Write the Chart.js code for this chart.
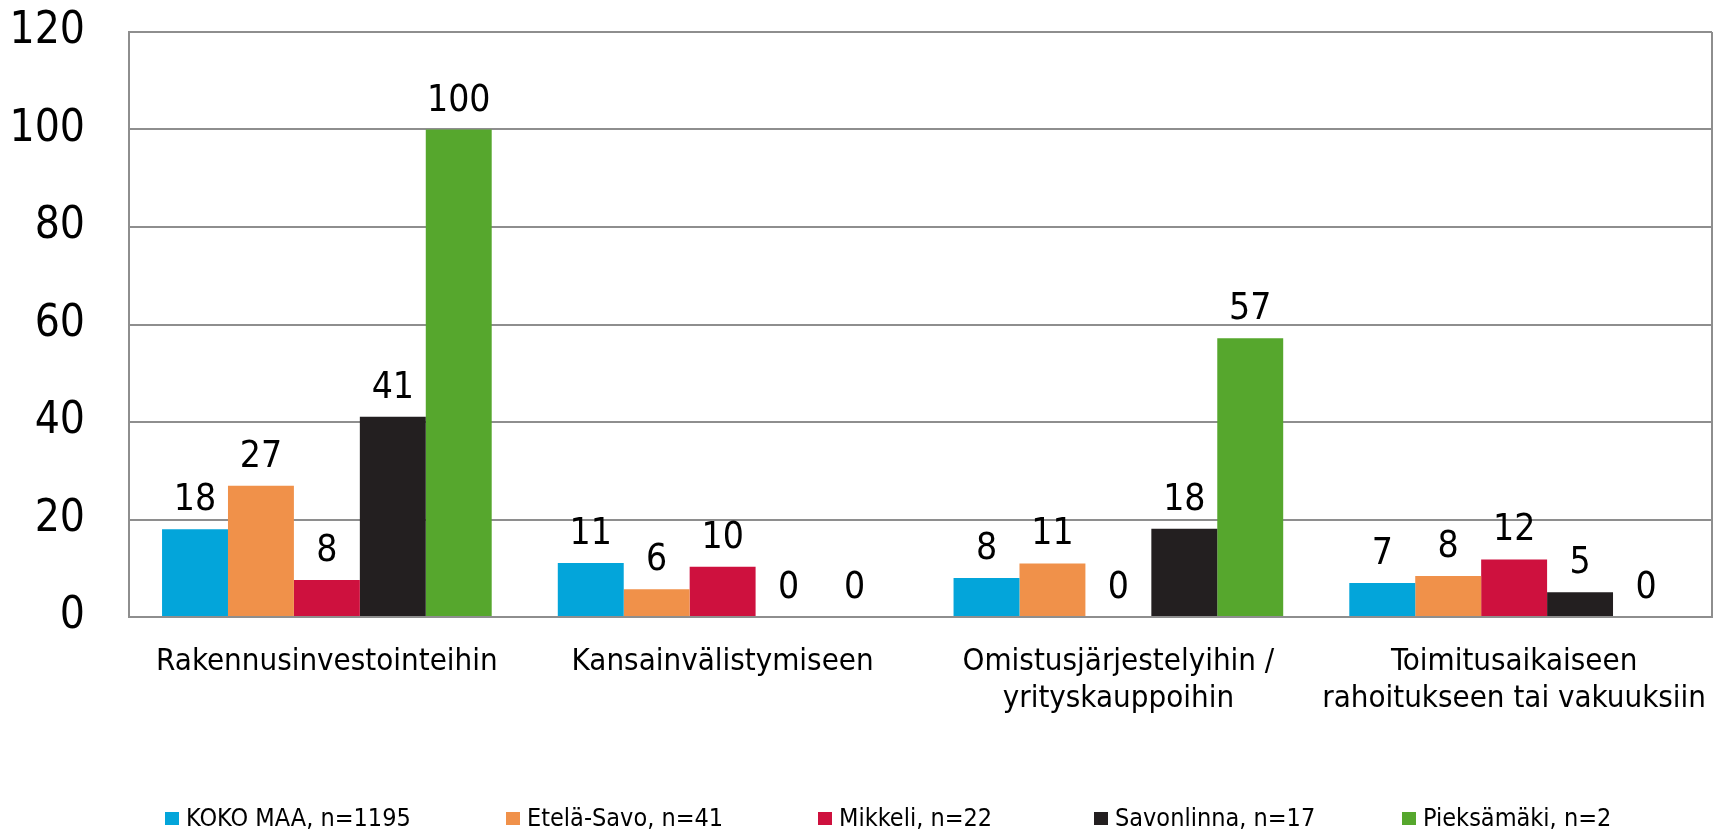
<!DOCTYPE html>
<html><head><meta charset="utf-8">
<script src="https://cdn.jsdelivr.net/npm/chart.js@4.4.1/dist/chart.umd.min.js"></script>
<style>
html,body{margin:0;padding:0;background:#fff;}
#wrap{position:relative;width:1713px;height:832px;overflow:hidden;}
#legend{position:absolute;left:0;top:0;width:1713px;height:832px;pointer-events:none;font-family:"DejaVu Sans Condensed","DejaVu Sans",sans-serif;font-stretch:condensed;font-size:25px;color:#000;}
.li{position:absolute;top:805px;height:26px;display:flex;align-items:center;white-space:pre;line-height:26px;}
.sw{display:inline-block;width:14px;height:13px;margin-right:7px;}
</style></head><body>
<div id="wrap"><canvas id="c" width="1713" height="832"></canvas><div id="legend"></div></div>
<script>
// ---- data ----
const categories = [
  ["Rakennusinvestointeihin"],
  ["Kansainvälistymiseen"],
  ["Omistusjärjestelyihin /", "yrityskauppoihin"],
  ["Toimitusaikaiseen", "rahoitukseen tai vakuuksiin"]
];
const seriesNames = ["KOKO MAA, n=1195", "Etelä-Savo, n=41", "Mikkeli, n=22", "Savonlinna, n=17", "Pieksämäki, n=2"];
const kokoMaa    = [18.0, 11.1, 8.0, 7.0];
const etelaSavo  = [26.9, 5.7, 11.0, 8.4];
const mikkeli    = [7.6, 10.3, 0, 11.8];
const savonlinna = [41.1, 0, 18.1, 5.1];
const pieksamaki = [100, 0, 57.2, 0];
const yMin = 0, yMax = 120, yStep = 20;

// ---- styles ----
const colors = ["#03A5DA", "#F0914A", "#CE113E", "#231F20", "#56A72D"];
const legendLeft = [165, 506, 818, 1094, 1402];
const FONT = '"DejaVu Sans Condensed", "DejaVu Sans", sans-serif';
const GRID = '#8e8e8e';

const seriesValues = [kokoMaa, etelaSavo, mikkeli, savonlinna, pieksamaki];

const valueLabels = {
  id: 'valueLabels',
  afterDatasetsDraw(chart) {
    const ctx = chart.ctx;
    ctx.save();
    ctx.font = '37px ' + FONT;
    ctx.fillStyle = '#000';
    ctx.textAlign = 'center';
    ctx.textBaseline = 'alphabetic';
    chart.data.datasets.forEach((ds, i) => {
      const meta = chart.getDatasetMeta(i);
      meta.data.forEach((el, j) => {
        ctx.fillText(String(Math.round(ds.data[j])), el.x, el.y - 19);
      });
    });
    ctx.restore();
  }
};
const frame = {
  id: 'frame',
  afterDraw(chart) {
    const a = chart.chartArea, ctx = chart.ctx;
    ctx.save();
    ctx.strokeStyle = GRID;
    ctx.lineWidth = 2;
    ctx.beginPath();
    ctx.moveTo(a.right, a.top);
    ctx.lineTo(a.right, a.bottom);
    ctx.stroke();
    ctx.restore();
  }
};

new Chart(document.getElementById('c'), {
  type: 'bar',
  data: {
    labels: categories,
    datasets: seriesNames.map((n, i) => ({
      label: n,
      data: seriesValues[i],
      backgroundColor: colors[i],
      borderWidth: 0,
      barPercentage: 1,
      categoryPercentage: 0.833
    }))
  },
  options: {
    responsive: false,
    animation: false,
    layout: { padding: { top: 32, right: 1, left: 0, bottom: 0 } },
    plugins: { legend: { display: false }, tooltip: { enabled: false } },
    scales: {
      x: {
        grid: { display: false, drawTicks: false },
        border: { display: true, color: GRID, width: 2 },
        ticks: { font: { family: FONT, size: 31, lineHeight: 1.18 }, color: '#000', padding: 27, maxRotation: 0, minRotation: 0, autoSkip: false },
        afterFit: (s) => { s.height = 215; s.paddingLeft = 0; s.paddingRight = 0; }
      },
      y: {
        min: yMin, max: yMax,
        ticks: { stepSize: yStep, font: { family: FONT, size: 44 }, color: '#000', padding: 44 },
        grid: { color: GRID, lineWidth: 2, drawTicks: false },
        border: { display: true, color: GRID, width: 2 },
        afterFit: (s) => { s.width = 129; s.paddingTop = 0; s.paddingBottom = 0; }
      }
    }
  },
  plugins: [valueLabels, frame]
});

const lg = document.getElementById('legend');
seriesNames.forEach((n, i) => {
  const d = document.createElement('div');
  d.className = 'li';
  d.style.left = legendLeft[i] + 'px';
  const sw = document.createElement('span');
  sw.className = 'sw';
  sw.style.background = colors[i];
  const t = document.createElement('span');
  t.textContent = n;
  d.appendChild(sw); d.appendChild(t);
  lg.appendChild(d);
});
</script>
</body></html>
